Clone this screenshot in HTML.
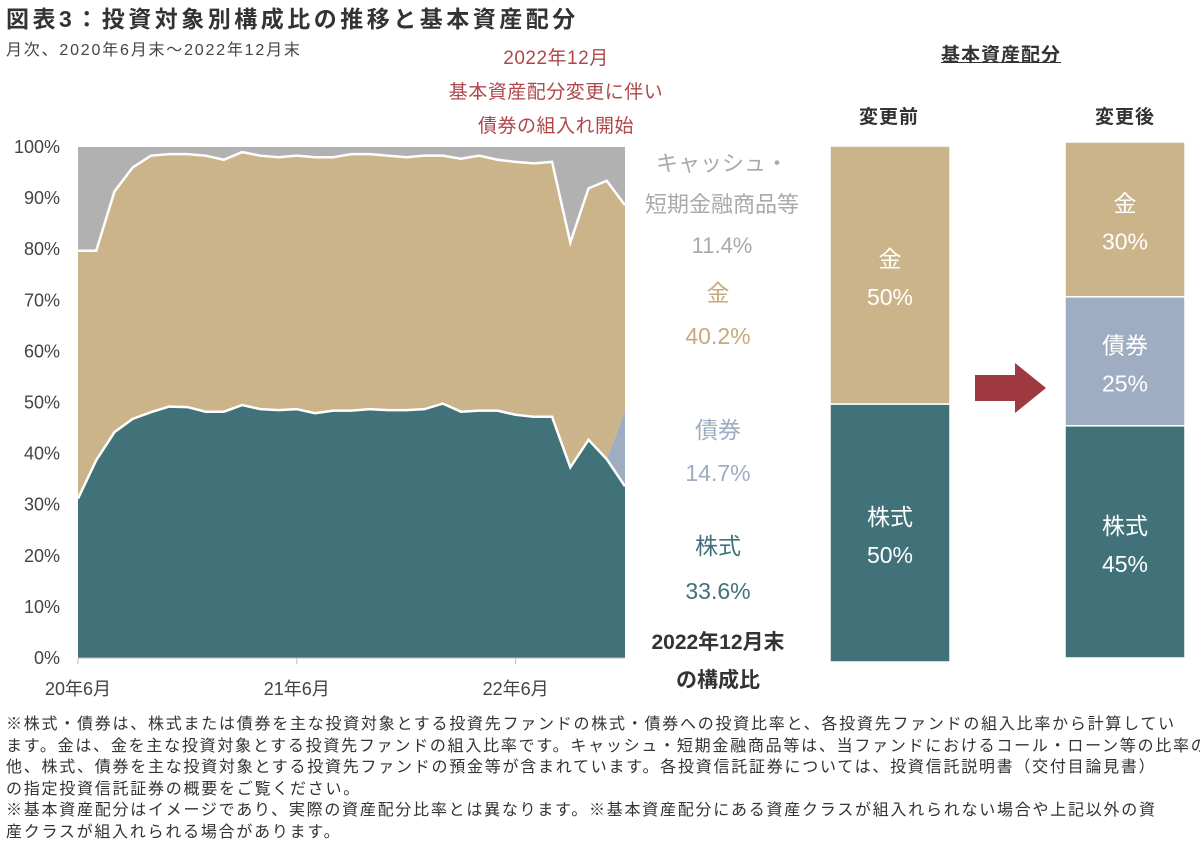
<!DOCTYPE html>
<html><head><meta charset="utf-8"><style>
body{margin:0;width:1200px;height:859px;background:#fff;overflow:hidden;font-family:"Liberation Sans","Noto Sans CJK JP",sans-serif;color:#333;}
.a{position:absolute;white-space:nowrap;}
.c{transform:translateX(-50%);text-align:center;}
</style></head><body>
<div class="a" style="left:6px;top:0px;font-size:23px;font-weight:bold;color:#333;letter-spacing:3.5px">図表3：投資対象別構成比の推移と基本資産配分</div>
<div class="a" style="left:6px;top:36px;font-size:16px;color:#444;letter-spacing:1.8px">月次、2020年6月末～2022年12月末</div>
<div class="a c" style="left:556px;top:42px;font-size:19px;color:#b0474b;line-height:34px;letter-spacing:0.5px">2022年12月<br>基本資産配分変更に伴い<br>債券の組入れ開始</div>
<svg id="chart" width="1200" height="859" style="position:absolute;left:0;top:0"></svg>
<div class="a c" style="left:722px;top:143px;font-size:22px;color:#aaa;line-height:41px">キャッシュ・<br>短期金融商品等<br>11.4%</div>
<div class="a c" style="left:718px;top:272px;font-size:23px;color:#c6aa7b;line-height:43px">金<br>40.2%</div>
<div class="a c" style="left:718px;top:409px;font-size:23px;color:#9fadc2;line-height:43px">債券<br>14.7%</div>
<div class="a c" style="left:718px;top:524px;font-size:23px;color:#41727a;line-height:45px">株式<br>33.6%</div>
<div class="a c" style="left:718px;top:624px;font-size:21px;font-weight:bold;color:#333;line-height:38px">2022年12月末<br>の構成比</div>
<div class="a c" style="left:1001px;top:40px;font-size:19px;font-weight:bold;text-decoration:underline;color:#333;letter-spacing:1px">基本資産配分</div>
<div class="a c" style="left:889px;top:102px;font-size:19px;font-weight:bold;letter-spacing:1px">変更前</div>
<div class="a c" style="left:1125px;top:102px;font-size:19px;font-weight:bold;letter-spacing:1px">変更後</div>
<div class="a" style="left:6px;top:714px;font-size:16px;line-height:21.5px;color:#333;letter-spacing:1.75px">※株式・債券は、株式または債券を主な投資対象とする投資先ファンドの株式・債券への投資比率と、各投資先ファンドの組入比率から計算してい<br>ます。金は、金を主な投資対象とする投資先ファンドの組入比率です。キャッシュ・短期金融商品等は、当ファンドにおけるコール・ローン等の比率の<br>他、株式、債券を主な投資対象とする投資先ファンドの預金等が含まれています。各投資信託証券については、投資信託説明書（交付目論見書）<br>の指定投資信託証券の概要をご覧ください。<br>※基本資産配分はイメージであり、実際の資産配分比率とは異なります。※基本資産配分にある資産クラスが組入れられない場合や上記以外の資<br>産クラスが組入れられる場合があります。</div>
<script>
const months = 31;
const stock = [31.2,38.7,44.2,46.8,48.1,49.2,49.1,48.2,48.2,49.5,48.7,48.5,48.7,47.9,48.4,48.4,48.7,48.5,48.5,48.7,49.8,48.2,48.4,48.4,47.6,47.2,47.2,37.3,42.7,38.9,33.6];
const bond = [0,0,0,0,0,0,0,0,0,0,0,0,0,0,0,0,0,0,0,0,0,0,0,0,0,0,0,0,0,0,14.7];
const total = [79.7,79.7,91.3,96.0,98.3,98.6,98.6,98.3,97.5,99.0,98.3,98.0,98.3,98.0,98.0,98.6,98.6,98.3,98.0,98.3,98.3,97.7,98.3,97.5,97.1,96.8,97.1,81.3,91.9,93.4,88.6];
const yTicks = [0,10,20,30,40,50,60,70,80,90,100];
const xTickLabels = ["20年6月","21年6月","22年6月"];
const xTickIdx = [0,12,24];
const beforeAlloc = [50,0,50]; // stock, bond, gold
const afterAlloc = [45,25,30];
const allocLabels = ["株式","債券","金"];

const NS="http://www.w3.org/2000/svg";
const svg=document.getElementById('chart');
const X0=78,X1=625,Y0=658,Y1=147;
const x=i=>X0+(X1-X0)*i/(months-1);
const y=v=>Y0-(Y0-Y1)*v/100;
function mk(t,a){const e=document.createElementNS(NS,t);for(const k in a)e.setAttribute(k,a[k]);svg.appendChild(e);return e;}
function band(lo,hi,fill,name){
  let d='M'+x(0)+','+y(hi[0]);
  for(let i=1;i<months;i++)d+=' L'+x(i)+','+y(hi[i]);
  for(let i=months-1;i>=0;i--)d+=' L'+x(i)+','+y(lo[i]);
  const p=mk('path',{d:d+'Z',fill:fill});
  
  
}
const zero=stock.map(()=>0), full=stock.map(()=>100);
const sb=stock.map((s,i)=>s+bond[i]);
band(total,full,'#b1b1b1','area-cash');
band(sb,total,'#cbb38a','area-gold');
band(stock,sb,'#9fadc2','area-bond');
band(zero,stock,'#41727a','area-stock');
function line(arr,name){
  let d='M'+x(0)+','+y(arr[0]);
  for(let i=1;i<months;i++)d+=' L'+x(i)+','+y(arr[i]);
  const p=mk('path',{d:d,fill:'none',stroke:'#fff','stroke-width':2.5});
  
  
}
line(total,'line-cash-boundary');line(stock,'line-stock-boundary');
const ax=mk('line',{x1:X0,x2:X1,y1:Y0,y2:Y0,stroke:'#bbb','stroke-width':1});

yTicks.forEach(v=>{
  const t=mk('text',{x:60,y:y(v)+6,'text-anchor':'end','font-size':18,fill:'#444'});
  t.textContent=v+'%';
  
});
xTickIdx.forEach((idx,k)=>{
  const l=mk('line',{x1:x(idx),x2:x(idx),y1:Y0,y2:Y0+6,stroke:'#bbb'});
  
  const t=mk('text',{x:x(idx),y:695,'text-anchor':'middle','font-size':18,fill:'#444'});
  t.textContent=xTickLabels[k];
  
});
const colors=['#41727a','#9fadc2','#cbb38a'];
function stackBar(alloc,bx,top,bottom,name){
  const w=120;let cum=0;
  alloc.forEach((v,i)=>{
    if(v<=0)return;
    const h=(bottom-top)*v/100;
    const yb=bottom-(bottom-top)*cum/100;
    const r=mk('rect',{x:bx,y:yb-h,width:w,height:h,fill:colors[i],stroke:'#fff','stroke-width':1.5});
    
    
    const cy=yb-h/2;
    const t1=mk('text',{x:bx+w/2,y:cy-8,'text-anchor':'middle','font-size':23,fill:'#fff'});
    t1.textContent=allocLabels[i];
    
    const t2=mk('text',{x:bx+w/2,y:cy+30,'text-anchor':'middle','font-size':23,fill:'#fff'});
    t2.textContent=v+'%';
    
    cum+=v;
  });
}
stackBar(beforeAlloc,830,146,662,'before-bar');
stackBar(afterAlloc,1065,142,658,'after-bar');
const ar=mk('path',{d:'M975,375 L1015,375 L1015,363 L1046,388 L1015,413 L1015,401 L975,401 Z',fill:'#9e3a3f'});

</script>
</body></html>
